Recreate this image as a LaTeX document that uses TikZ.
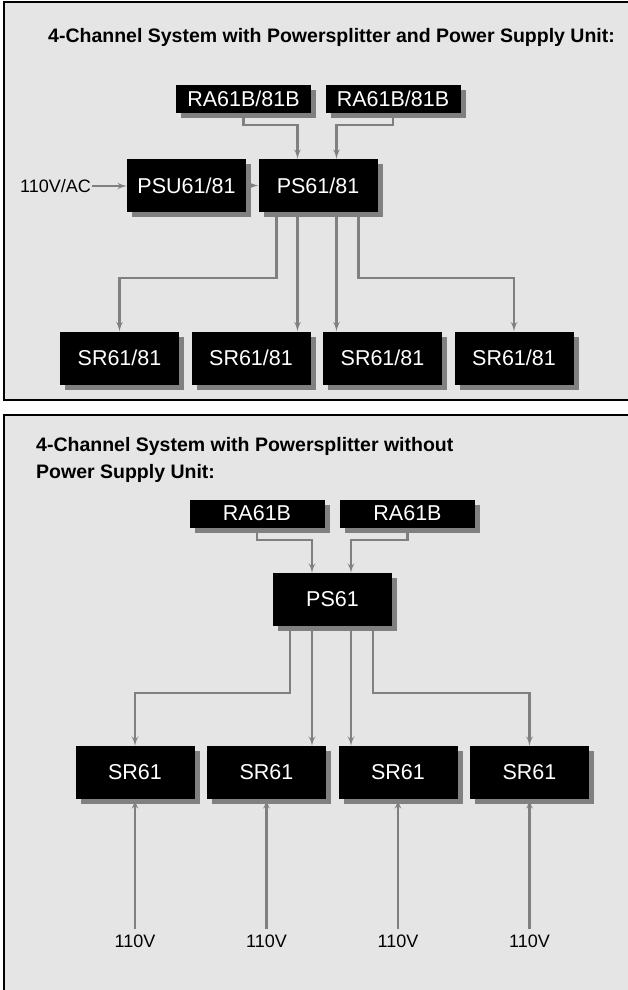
\documentclass[tikz,border=0pt]{standalone}
\usepackage{fontspec}
\setmainfont{Liberation Sans}
\usepackage{tikz}
\usetikzlibrary{arrows,shadows,backgrounds}
\definecolor{panelgray}{gray}{0.9}
\definecolor{wiregray}{gray}{0.5}

\begin{document}
\begin{tikzpicture}[x=1pt,y=-1pt,->,>=latex',node distance=131.5pt]
  \tikzstyle{unit}=[fill=black,text=white,minimum width=119pt,minimum height=53pt,inner sep=0pt,
                    font=\fontsize{21.5}{25}\selectfont,
                    drop shadow={shadow xshift=5pt,shadow yshift=-5pt,fill=wiregray,opacity=1}]
  \tikzstyle{remote}=[unit,minimum width=135pt,minimum height=28pt]
  \tikzstyle{wire}=[draw=wiregray,line width=2.2pt]
  \tikzstyle{heading}=[font=\fontsize{19.5}{27}\selectfont\bfseries,align=left,anchor=north west,inner sep=0pt]
  \tikzstyle{supply}=[font=\fontsize{18}{21}\selectfont,inner sep=1pt]

  % panels
  \begin{scope}[on background layer,-]
    \path[use as bounding box,fill=white] (0,0) rectangle (628,990);
    \fill[panelgray] (4,2) rectangle (628,400);
    \draw[line width=2pt] (628,2) -- (4,2) -- (4,400) -- (628,400);
    \fill[panelgray] (4,415) rectangle (628,990);
    \draw[line width=2pt] (628,415) -- (4,415) -- (4,990);
  \end{scope}

  % with power supply unit
  \node[heading] (title1) at (48,28) {4-Channel System with Powersplitter and Power Supply Unit:};
  \node[remote]  (ra1) at (243.5,99) {RA61B/81B};
  \node[remote]  (ra2) at (393,99)   {RA61B/81B};
  \node[unit]    (psu) at (186.5,185.5) {PSU61/81};
  \node[unit]    (ps)  [right of=psu] {PS61/81};
  \node[supply,anchor=east] (ac) at (92,186) {110V/AC};
  \node[unit]    (sr1) at (119.5,358) {SR61/81};
  \node[unit]    (sr2) [right of=sr1] {SR61/81};
  \node[unit]    (sr3) [right of=sr2] {SR61/81};
  \node[unit]    (sr4) [right of=sr3] {SR61/81};

  % without power supply unit
  \node[heading] (title2) at (36,437) {4-Channel System with Powersplitter without\\Power Supply Unit:};
  \node[remote]  (rb1) at (257,513.5)   {RA61B};
  \node[remote]  (rb2) at (407.5,513.5) {RA61B};
  \node[unit]    (ps61) at (332.5,599.5) {PS61};
  \node[unit]    (srb1) at (135,772.5) {SR61};
  \node[unit]    (srb2) [right of=srb1] {SR61};
  \node[unit]    (srb3) [right of=srb2] {SR61};
  \node[unit]    (srb4) [right of=srb3] {SR61};
  \coordinate (feed) at (0,947);
  \node[supply,anchor=base,inner sep=5pt] (v1) at (srb1 |- feed) {110V};
  \node[supply,anchor=base,inner sep=5pt] (v2) at (srb2 |- feed) {110V};
  \node[supply,anchor=base,inner sep=5pt] (v3) at (srb3 |- feed) {110V};
  \node[supply,anchor=base,inner sep=5pt] (v4) at (srb4 |- feed) {110V};

  \coordinate (t1) at ([xshift=-41.5pt]ps.south);
  \coordinate (t2) at ([xshift=-20.5pt]ps.south);
  \coordinate (t3) at ([xshift=18.5pt]ps.south);
  \coordinate (t4) at ([xshift=40.5pt]ps.south);
  \coordinate (u1) at ([xshift=-42.5pt]ps61.south);
  \coordinate (u2) at ([xshift=-20.5pt]ps61.south);
  \coordinate (u3) at ([xshift=18.5pt]ps61.south);
  \coordinate (u4) at ([xshift=40.5pt]ps61.south);

  \begin{scope}[on background layer]
    \draw[wire] (ra1) -- ++(0,26) -| ([xshift=-20.5pt]ps.north);
    \draw[wire] (ra2) -- ++(0,26) -| ([xshift=18.5pt]ps.north);
    \draw[wire] (ac.east) -- (ac.east -| psu.west);
    \draw[wire] (psu.east) -- (ps.west);
    \draw[wire] (t1) -- ++(0,66) -| (sr1.north);
    \draw[wire] (t2) -- (t2 |- sr2.north);
    \draw[wire] (t3) -- (t3 |- sr3.north);
    \draw[wire] (t4) -- ++(0,66) -| (sr4.north);

    \draw[wire] (rb1) -- ++(0,26.5) -| ([xshift=-20.5pt]ps61.north);
    \draw[wire] (rb2) -- ++(0,26.5) -| ([xshift=18.5pt]ps61.north);
    \draw[wire] (u1) -- ++(0,67) -| (srb1.north);
    \draw[wire] (u2) -- (u2 |- srb2.north);
    \draw[wire] (u3) -- (u3 |- srb3.north);
    \draw[wire] (u4) -- ++(0,67) -| (srb4.north);
    \draw[wire] (v1.north) -- (srb1.south);
    \draw[wire] (v2.north) -- (srb2.south);
    \draw[wire] (v3.north) -- (srb3.south);
    \draw[wire] (v4.north) -- (srb4.south);
  \end{scope}
\end{tikzpicture}
\end{document}
